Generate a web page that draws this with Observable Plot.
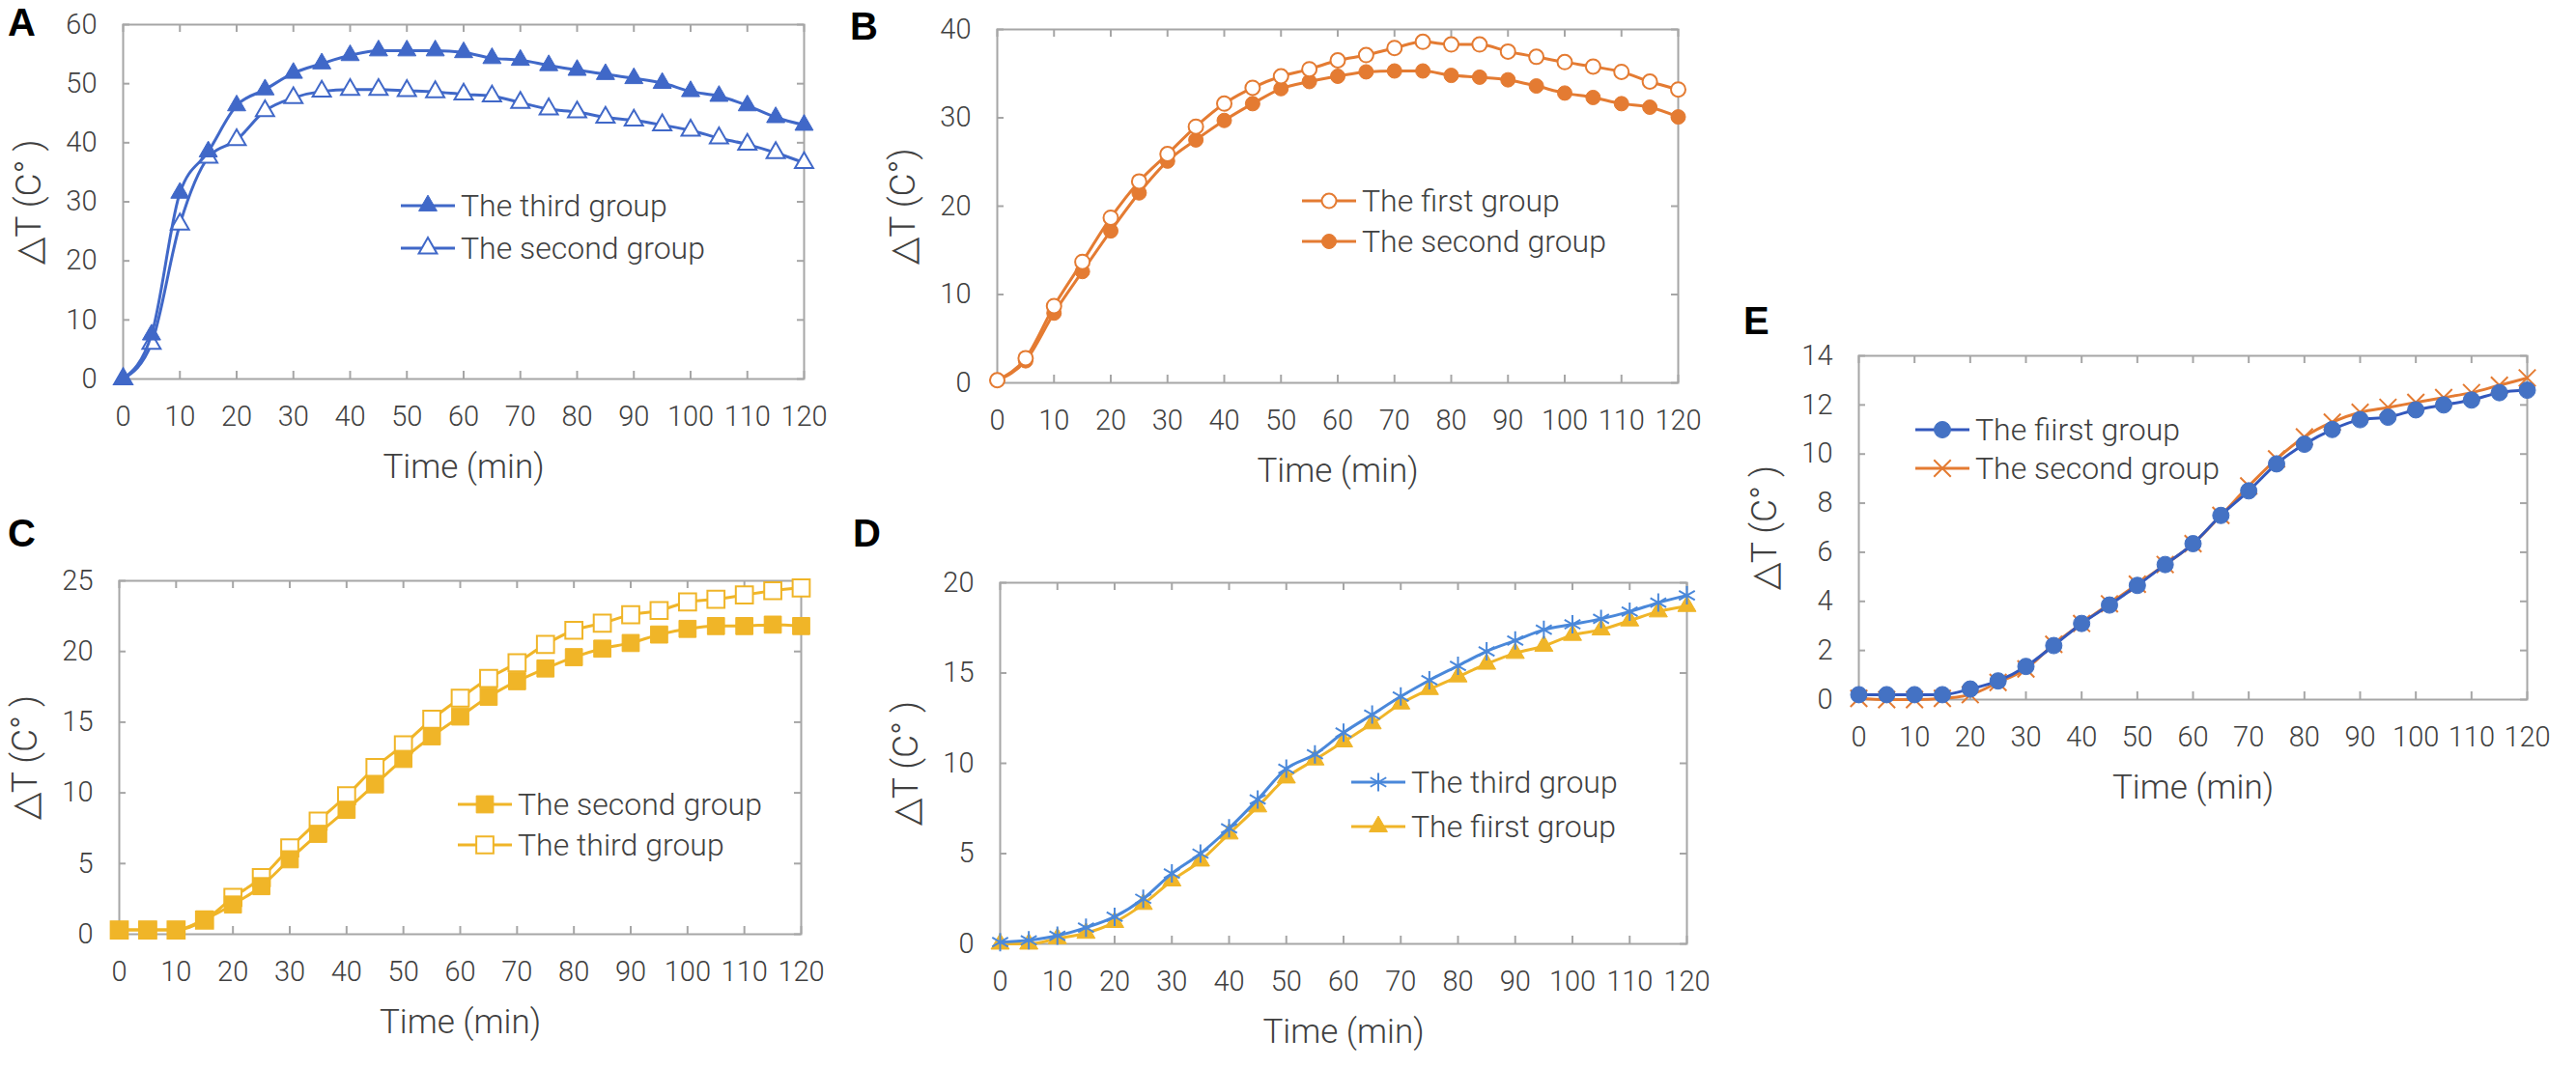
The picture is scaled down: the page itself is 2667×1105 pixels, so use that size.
<!DOCTYPE html>
<html>
<head>
<meta charset="utf-8">
<script src="https://cdn.jsdelivr.net/npm/d3@7"></script>
<script src="https://cdn.jsdelivr.net/npm/@observablehq/plot@0.6"></script>
<style>
  body { margin: 0; background: #fff; }
  #root { position: relative; width: 2667px; height: 1105px; background: #fff; overflow: hidden; }
  .panel { position: absolute; }
  .letter { position: absolute; font: bold 40px "Liberation Sans", Arial, sans-serif; color: #000; line-height: 1; }
  .lg { position: absolute; display: flex; align-items: center; font-family: Roboto, "Noto Sans", sans-serif; font-weight: 300; font-size: 32px; color: #404040; white-space: nowrap; line-height: 1; }
  .lg svg { overflow: visible; margin-right: 6px; }
</style>
</head>
<body>
<div id="root"></div>
<script>
// ---------- data ----------
const time = [0,5,10,15,20,25,30,35,40,45,50,55,60,65,70,75,80,85,90,95,100,105,110,115,120];
const xTicks = [0,10,20,30,40,50,60,70,80,90,100,110,120];

// Panel A
const A_third  = [0,7.5,31.5,38.5,46.3,49.0,51.8,53.4,54.8,55.6,55.6,55.6,55.3,54.3,54.0,53.1,52.3,51.6,50.9,50.1,48.7,47.9,46.3,44.3,43.0];
const A_second = [0,6.0,26.2,37.5,40.5,45.4,47.6,48.7,49.0,49.0,48.8,48.6,48.2,47.9,46.8,45.7,45.2,44.3,43.8,43.0,42.1,40.8,39.7,38.3,36.6];
const A_yTicks = [0,10,20,30,40,50,60];

// Panel B
const B_first  = [0.3,2.8,8.7,13.7,18.7,22.8,25.9,29.0,31.6,33.4,34.7,35.5,36.5,37.1,37.9,38.6,38.3,38.3,37.5,36.9,36.3,35.8,35.2,34.1,33.2];
const B_second = [0.3,2.5,7.9,12.6,17.2,21.5,25.1,27.5,29.7,31.6,33.3,34.1,34.7,35.2,35.3,35.3,34.8,34.6,34.3,33.6,32.8,32.3,31.6,31.2,30.1];
const B_yTicks = [0,10,20,30,40];

// Panel C
const C_second = [0.3,0.3,0.3,1.05,2.1,3.4,5.3,7.1,8.8,10.6,12.4,14.0,15.4,16.8,17.9,18.8,19.6,20.2,20.6,21.2,21.6,21.8,21.8,21.9,21.8];
const C_third  = [0.3,0.3,0.3,1.0,2.6,4.0,6.1,8.0,9.8,11.8,13.4,15.2,16.7,18.1,19.2,20.5,21.5,22.0,22.6,22.9,23.5,23.7,24.0,24.3,24.5];
const C_yTicks = [0,5,10,15,20,25];

// Panel D
const D_third = [0.1,0.2,0.45,0.9,1.5,2.5,3.9,5.0,6.4,8.0,9.7,10.5,11.7,12.7,13.7,14.6,15.4,16.2,16.8,17.4,17.7,18.0,18.4,18.9,19.3];
const D_first = [0,0,0.3,0.6,1.2,2.2,3.5,4.6,6.1,7.6,9.2,10.2,11.2,12.2,13.3,14.1,14.8,15.5,16.1,16.5,17.1,17.4,17.9,18.4,18.7];
const D_yTicks = [0,5,10,15,20];

// Panel E
const E_first  = [0.2,0.2,0.2,0.2,0.43,0.76,1.35,2.2,3.1,3.85,4.65,5.5,6.35,7.5,8.5,9.6,10.4,11.0,11.4,11.5,11.8,12.0,12.2,12.5,12.6];
const E_second = [0.05,0,0,0.05,0.2,0.7,1.25,2.25,3.1,3.9,4.7,5.5,6.35,7.5,8.7,9.8,10.7,11.3,11.7,11.9,12.1,12.3,12.5,12.8,13.1];
const E_yTicks = [0,2,4,6,8,10,12,14];

const xTitle = "Time (min)";

// ---------- styles ----------
const FRAME = "#a6a6a6";
const TEXT = "#404040";
const FONT = 'Roboto, "Noto Sans", "DejaVu Sans", sans-serif';
const BLUE = "#4068c8", ORANGE = "#e47b32", GOLD = "#f0b528", LBLUE = "#4a88da", EBLUE = "#4472c4";

const rows = (vals) => time.map((t, i) => ({t, v: vals[i]}));

const panels = [
  {letter: "A", lx: 8, ly: 3, left: 0, top: 0, width: 880, height: 530, ml: 127, mt: 25, mr: 48, mb: 138,
   yDomain: [0, 60], yTicks: A_yTicks, yTitle: "△T (C° )",
   legend: {x: 415, y: 213, gap: 44},
   series: [
     {name: "The third group", vals: A_third, color: BLUE, symbol: "triangle", open: false, r: 7},
     {name: "The second group", vals: A_second, color: BLUE, symbol: "triangle", open: true, r: 7}
   ]},
  {letter: "B", lx: 880, ly: 7, left: 880, top: 0, width: 880, height: 530, ml: 152, mt: 30, mr: 23, mb: 134,
   yDomain: [0, 40], yTicks: B_yTicks, yTitle: "△T (C°)",
   legend: {x: 1348, y: 208, gap: 42},
   series: [
     {name: "The first group", vals: B_first, color: ORANGE, symbol: "circle", open: true, r: 7.5},
     {name: "The second group", vals: B_second, color: ORANGE, symbol: "circle", open: false, r: 7.5}
   ]},
  {letter: "C", lx: 8, ly: 532, left: 0, top: 530, width: 880, height: 575, ml: 123, mt: 71, mr: 51, mb: 138,
   yDomain: [0, 25], yTicks: C_yTicks, yTitle: "△T (C° )",
   legend: {x: 474, y: 833, gap: 42},
   series: [
     {name: "The second group", vals: C_second, color: GOLD, symbol: "square", open: false, r: 10},
     {name: "The third group", vals: C_third, color: GOLD, symbol: "square", open: true, r: 10}
   ]},
  {letter: "D", lx: 883, ly: 532, left: 880, top: 530, width: 880, height: 575, ml: 155, mt: 73, mr: 14, mb: 128,
   yDomain: [0, 20], yTicks: D_yTicks, yTitle: "△T (C° )",
   legend: {x: 1399, y: 810, gap: 46},
   series: [
     {name: "The third group", vals: D_third, color: LBLUE, symbol: "asterisk", open: false, r: 9},
     {name: "The fiirst group", vals: D_first, color: GOLD, symbol: "triangle", open: false, r: 7}
   ]},
  {letter: "E", lx: 1805, ly: 312, left: 1760, top: 260, width: 907, height: 600, ml: 164, mt: 108, mr: 51, mb: 136,
   yDomain: [0, 14], yTicks: E_yTicks, yTitle: "△T (C° )",
   legend: {x: 1983, y: 445, gap: 40},
   series: [
     {name: "The fiirst group", vals: E_first, color: EBLUE, line: "#3358bd", symbol: "circle", open: false, r: 8.5},
     {name: "The second group", vals: E_second, color: ORANGE, symbol: "times", open: false, r: 8}
   ]}
];

const root = document.getElementById("root");
const strokeOnly = new Set(["asterisk", "times", "plus", "cross"]);

function dotStyle(s) {
  if (strokeOnly.has(s.symbol)) return {fill: "none", stroke: s.color, strokeWidth: 2};
  if (s.open) return {fill: "white", stroke: s.color, strokeWidth: 2};
  return {fill: s.color, stroke: s.color, strokeWidth: 1};
}

for (const p of panels) {
  const pw = p.width - p.ml - p.mr, ph = p.height - p.mt - p.mb;
  const marks = [
    Plot.frame({stroke: FRAME, strokeWidth: 2}),
    Plot.tickX(xTicks, {x: d => d, insetTop: ph - 8, stroke: FRAME, strokeWidth: 2}),
    Plot.tickX(xTicks, {x: d => d, insetBottom: ph - 8, stroke: FRAME, strokeWidth: 2}),
    Plot.tickY(p.yTicks, {y: d => d, insetRight: pw - 7, stroke: FRAME, strokeWidth: 2}),
    Plot.tickY(p.yTicks, {y: d => d, insetLeft: pw - 7, stroke: FRAME, strokeWidth: 2}),
    Plot.text([xTitle], {text: d => d, frameAnchor: "bottom", lineAnchor: "middle", textAnchor: "middle", dy: 91, fontSize: 35, fill: TEXT}),
    Plot.text([p.yTitle], {text: d => d, frameAnchor: "left", lineAnchor: "middle", textAnchor: "middle", dx: -97, rotate: -90, fontSize: 37, fill: TEXT})
  ];
  for (const s of [...p.series].reverse()) {
    const data = rows(s.vals);
    marks.push(Plot.line(data, {x: "t", y: "v", stroke: s.line || s.color, strokeWidth: 3, curve: "monotone-x"}));
    marks.push(Plot.dot(data, {x: "t", y: "v", symbol: s.symbol, r: s.r, ...dotStyle(s)}));
  }
  const svg = Plot.plot({
    width: p.width, height: p.height,
    marginLeft: p.ml, marginTop: p.mt, marginRight: p.mr, marginBottom: p.mb,
    x: {domain: [0, 120], ticks: xTicks, tickSize: 0, tickPadding: 28, label: null},
    y: {domain: p.yDomain, ticks: p.yTicks, tickSize: 0, tickPadding: 27, label: null},
    style: {fontFamily: FONT, fontSize: "29px", fontWeight: 300, color: TEXT, background: "transparent", overflow: "visible", maxWidth: "none"},
    marks
  });
  const wrap = document.createElement("div");
  wrap.className = "panel";
  wrap.style.left = p.left + "px"; wrap.style.top = p.top + "px";
  wrap.style.width = p.width + "px"; wrap.style.height = p.height + "px";
  wrap.appendChild(svg);
  root.appendChild(wrap);

  const L = document.createElement("div");
  L.className = "letter"; L.textContent = p.letter;
  L.style.left = p.lx + "px"; L.style.top = p.ly + "px";
  root.appendChild(L);

  // legend
  p.series.forEach((s, i) => {
    const row = document.createElement("div");
    row.className = "lg";
    const cy = p.legend.y + i * p.legend.gap;
    row.style.left = p.legend.x + "px";
    row.style.top = (cy - 20) + "px";
    row.style.height = "40px";
    const sw = d3.create("svg").attr("width", 56).attr("height", 40);
    sw.append("line").attr("x1", 0).attr("x2", 56).attr("y1", 20).attr("y2", 20)
      .attr("stroke", s.line || s.color).attr("stroke-width", 3);
    const st = dotStyle(s);
    const symMap = {triangle: d3.symbolTriangle, circle: d3.symbolCircle, square: d3.symbolSquare, asterisk: d3.symbolAsterisk, times: d3.symbolTimes};
    sw.append("path").attr("transform", "translate(28,20)")
      .attr("d", d3.symbol(symMap[s.symbol], s.r * s.r * Math.PI)())
      .attr("fill", st.fill).attr("stroke", st.stroke).attr("stroke-width", st.strokeWidth);
    row.appendChild(sw.node());
    const tx = document.createElement("span");
    tx.textContent = s.name;
    row.appendChild(tx);
    root.appendChild(row);
  });
}
</script>
</body>
</html>
